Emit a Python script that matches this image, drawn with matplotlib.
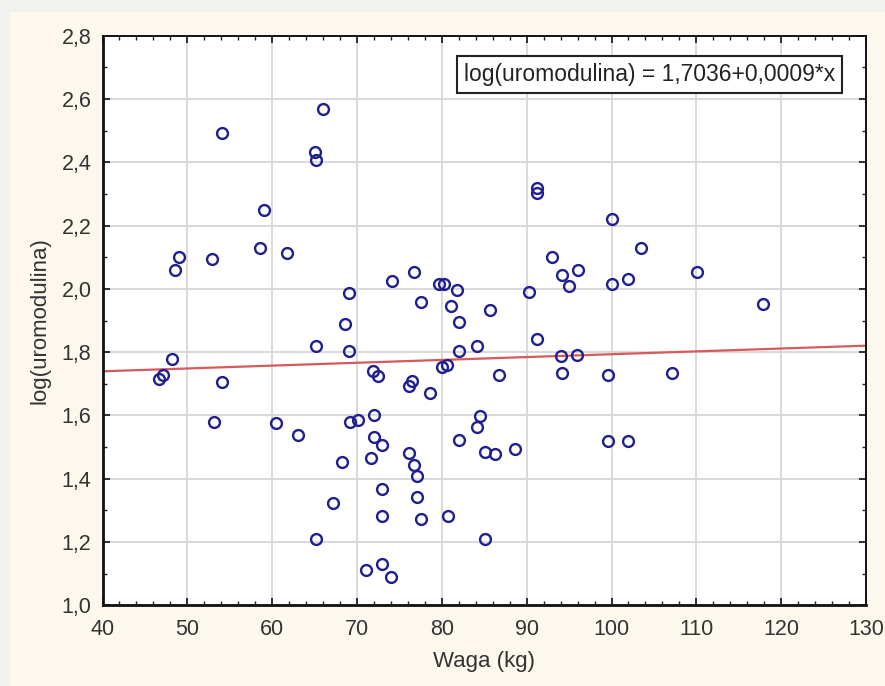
import matplotlib
matplotlib.use("Agg")
import matplotlib.pyplot as plt
from matplotlib.ticker import MultipleLocator, FuncFormatter
from matplotlib.patches import Rectangle
import numpy as np

plt.rcParams['font.family'] = ['Liberation Sans', 'DejaVu Sans']

waga = [66.0, 54.1, 65.0, 65.2, 59.0, 58.6, 61.8, 49.0, 48.6, 52.9,
        74.1, 69.0, 68.6, 65.2, 69.0, 48.2, 91.2, 91.2, 100.1, 103.5,
        93.0, 96.0, 94.2, 95.0, 90.3, 100.1, 102.0, 76.7, 79.7, 80.3,
        81.8, 77.5, 81.1, 85.7, 82.0, 91.2, 84.1, 82.0, 94.0, 95.9,
        110.1, 117.8, 46.7, 47.1, 54.1, 71.9, 72.5, 53.1, 60.5, 63.1,
        69.2, 70.1, 72.0, 72.0, 73.0, 71.6, 68.2, 73.0, 67.2, 73.0,
        65.2, 71.1, 73.0, 74.0, 80.0, 80.6, 76.1, 76.5, 78.6, 86.7,
        94.2, 99.6, 107.1, 84.5, 84.1, 82.0, 85.1, 86.3, 88.6, 99.6,
        102.0, 76.1, 76.7, 77.1, 77.1, 77.5, 80.7, 85.1]
log_uromodulina = [2.567, 2.494, 2.433, 2.407, 2.249, 2.128, 2.112, 2.100, 2.060, 2.093,
                   2.025, 1.986, 1.888, 1.821, 1.804, 1.777, 2.318, 2.303, 2.220, 2.128,
                   2.100, 2.060, 2.044, 2.008, 1.991, 2.015, 2.031, 2.054, 2.015, 2.015,
                   1.998, 1.958, 1.945, 1.934, 1.894, 1.843, 1.821, 1.804, 1.788, 1.792,
                   2.054, 1.951, 1.716, 1.727, 1.706, 1.740, 1.724, 1.580, 1.575, 1.539,
                   1.580, 1.586, 1.602, 1.533, 1.506, 1.466, 1.454, 1.369, 1.324, 1.283,
                   1.209, 1.113, 1.130, 1.090, 1.754, 1.758, 1.694, 1.710, 1.672, 1.729,
                   1.735, 1.729, 1.735, 1.597, 1.563, 1.524, 1.484, 1.477, 1.495, 1.518,
                   1.518, 1.482, 1.443, 1.409, 1.342, 1.272, 1.283, 1.209]

intercept = 1.7036
slope = 0.0009
x_range = [40, 130]
y_range = [1.0, 2.8]

fig = plt.figure(figsize=(8.85, 6.86), dpi=100, facecolor='#fcf8ee')
# light frame strips at top and left
fig.patches.append(Rectangle((0, 1 - 12/686), 1, 12/686, transform=fig.transFigure,
                             facecolor='#f1f1f0', edgecolor='none', zorder=0))
fig.patches.append(Rectangle((0, 0), 10/885, 1, transform=fig.transFigure,
                             facecolor='#f1f1f0', edgecolor='none', zorder=0))

ax = fig.add_axes([102.5/885, 1 - 605.4/686, (866 - 102.5)/885, (605.4 - 35.7)/686])
ax.set_facecolor('white')

ax.set_xlim(*x_range)
ax.set_ylim(*y_range)

ax.grid(True, which='major', color='#d9d9d9', linewidth=1.4, zorder=0)

xl = np.array(x_range)
ax.plot(xl, intercept + slope * xl, color='#d9595b', linewidth=1.6, zorder=2)

ax.plot(waga, log_uromodulina, linestyle='none', marker='o', markersize=7.8,
        markerfacecolor='none', markeredgecolor='#1f1f8f', markeredgewidth=1.7, zorder=3)

ax.xaxis.set_major_locator(MultipleLocator(10))
ax.xaxis.set_minor_locator(MultipleLocator(2))
ax.yaxis.set_major_locator(MultipleLocator(0.2))
ax.yaxis.set_minor_locator(MultipleLocator(0.1))
ax.yaxis.set_major_formatter(FuncFormatter(lambda v, p: f"{v:.1f}".replace('.', ',')))
ax.xaxis.set_major_formatter(FuncFormatter(lambda v, p: f"{v:.0f}"))

ax.tick_params(which='both', direction='in', top=True, right=True, color='#222222')
ax.tick_params(which='major', length=5, width=1.3, labelsize=15.5, labelcolor='#333333')
ax.tick_params(axis='x', which='major', pad=10)
ax.tick_params(axis='y', which='major', pad=8)
ax.tick_params(which='minor', length=3, width=1.0)

for side in ['left', 'bottom']:
    ax.spines[side].set_linewidth(2.0)
for side in ['top', 'right']:
    ax.spines[side].set_linewidth(1.4)
for s in ax.spines.values():
    s.set_color('#111111')

ax.set_xlabel('Waga (kg)', fontsize=16, color='#333333', labelpad=8)
ax.set_ylabel('log(uromodulina)', fontsize=16, color='#333333', labelpad=8)

ax.text(0.96, 0.952, 'log(uromodulina) = 1,7036+0,0009*x', transform=ax.transAxes,
        ha='right', va='top', fontsize=16.5, color='#222222', zorder=5,
        bbox=dict(boxstyle='square,pad=0.3', facecolor='white', edgecolor='#222222', linewidth=1.5))

fig.savefig('out.png', dpi=100, facecolor=fig.get_facecolor())
